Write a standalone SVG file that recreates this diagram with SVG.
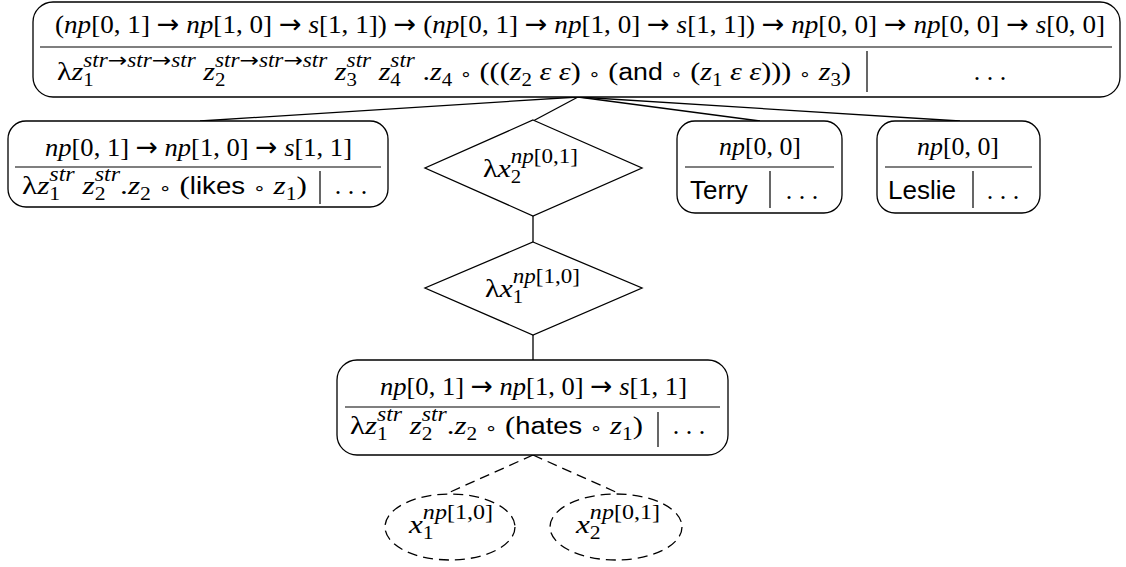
<svg xmlns="http://www.w3.org/2000/svg" width="1126" height="567" viewBox="0 0 1126 567">
<style>
.m{font-family:"Liberation Serif","DejaVu Serif",serif;font-size:26px;fill:#000}
.i{font-style:italic}
.s{font-size:20px}
.d{font-size:18px}
.a{font-family:"DejaVu Sans",sans-serif;font-style:normal}
.sf{font-family:"Liberation Sans","DejaVu Sans",sans-serif;font-style:normal;font-size:23px}
.w{font-family:"Liberation Sans","DejaVu Sans",sans-serif;font-size:26px}
.o{font-family:"DejaVu Sans",sans-serif;font-size:17px;font-style:normal}
.box{fill:#fff;stroke:#000;stroke-width:1.3}
.rule{stroke:#000;stroke-width:1.2;fill:none}
.edge{stroke:#000;stroke-width:1.3;fill:none}
.dash{stroke-dasharray:10 6}
</style>
<rect width="1126" height="567" fill="#fff"/>
<g id="connectors">
<line class="edge" x1="578" y1="97" x2="200" y2="121"/>
<line class="edge" x1="578" y1="97" x2="533" y2="121"/>
<line class="edge" x1="578" y1="97" x2="760" y2="121"/>
<line class="edge" x1="578" y1="97" x2="960" y2="121"/>
<line class="edge" x1="533" y1="216" x2="533" y2="242"/>
<line class="edge" x1="533" y1="335" x2="533" y2="360"/>
<line class="edge dash" x1="533" y1="455" x2="448" y2="493"/>
<line class="edge dash" x1="533" y1="455" x2="618" y2="493"/>
</g>
<g id="root">
<rect class="box" x="33" y="2" width="1087" height="95" rx="20"/>
<line class="rule" x1="40" y1="47" x2="1112" y2="47"/>
<line class="rule" x1="867" y1="51" x2="867" y2="92"/>
<text class="m" x="55" y="33" textLength="1050" lengthAdjust="spacingAndGlyphs">(<tspan class="i">np</tspan>[0, 1] <tspan class="a">→</tspan> <tspan class="i">np</tspan>[1, 0] <tspan class="a">→</tspan> <tspan class="i">s</tspan>[1, 1]) <tspan class="a">→</tspan> (<tspan class="i">np</tspan>[0, 1] <tspan class="a">→</tspan> <tspan class="i">np</tspan>[1, 0] <tspan class="a">→</tspan> <tspan class="i">s</tspan>[1, 1]) <tspan class="a">→</tspan> <tspan class="i">np</tspan>[0, 0] <tspan class="a">→</tspan> <tspan class="i">np</tspan>[0, 0] <tspan class="a">→</tspan> <tspan class="i">s</tspan>[0, 0]</text>
<text class="m" x="57" y="80" textLength="794" lengthAdjust="spacingAndGlyphs">λ<tspan class="i">z</tspan><tspan class="d" dy="6">1</tspan><tspan class="s i" dx="-9" dy="-19">str<tspan class="a">→</tspan>str<tspan class="a">→</tspan>str</tspan><tspan dy="13" class="i"> z</tspan><tspan class="d" dy="6">2</tspan><tspan class="s i" dx="-9" dy="-19">str<tspan class="a">→</tspan>str<tspan class="a">→</tspan>str</tspan><tspan dy="13" class="i"> z</tspan><tspan class="d" dy="6">3</tspan><tspan class="s i" dx="-9" dy="-19">str</tspan><tspan dy="13" class="i"> z</tspan><tspan class="d" dy="6">4</tspan><tspan class="s i" dx="-9" dy="-19">str</tspan><tspan dy="13"> .</tspan><tspan class="i">z</tspan><tspan class="d" dy="6">4</tspan><tspan dy="-6"> </tspan><tspan class="o">∘</tspan> (((<tspan class="i">z</tspan><tspan class="d" dy="6">2</tspan><tspan dy="-6" class="i"> ε ε</tspan>) <tspan class="o">∘</tspan> (<tspan class="sf">and</tspan> <tspan class="o">∘</tspan> (<tspan class="i">z</tspan><tspan class="d" dy="6">1</tspan><tspan dy="-6" class="i"> ε ε</tspan>))) <tspan class="o">∘</tspan> <tspan class="i">z</tspan><tspan class="d" dy="6">3</tspan><tspan dy="-6">)</tspan></text>
<text class="m" x="990" y="80" text-anchor="middle">. . .</text>
</g>
<g id="likes">
<rect class="box" x="8" y="121" width="380" height="86" rx="18"/>
<line class="rule" x1="15" y1="167" x2="381" y2="167"/>
<line class="rule" x1="320" y1="171" x2="320" y2="204"/>
<text class="m" x="45" y="156" textLength="307" lengthAdjust="spacingAndGlyphs"><tspan class="i">np</tspan>[0, 1] <tspan class="a">→</tspan> <tspan class="i">np</tspan>[1, 0] <tspan class="a">→</tspan> <tspan class="i">s</tspan>[1, 1]</text>
<text class="m" x="22" y="194" textLength="285" lengthAdjust="spacingAndGlyphs">λ<tspan class="i">z</tspan><tspan class="d" dy="6">1</tspan><tspan class="s i" dx="-9" dy="-19">str</tspan><tspan dy="13" class="i"> z</tspan><tspan class="d" dy="6">2</tspan><tspan class="s i" dx="-9" dy="-19">str</tspan><tspan dy="13">.</tspan><tspan class="i">z</tspan><tspan class="d" dy="6">2</tspan><tspan dy="-6"> </tspan><tspan class="o">∘</tspan> (<tspan class="sf">likes</tspan> <tspan class="o">∘</tspan> <tspan class="i">z</tspan><tspan class="d" dy="6">1</tspan><tspan dy="-6">)</tspan></text>
<text class="m" x="351" y="194" text-anchor="middle">. . .</text>
</g>
<g id="lambda-x2">
<polygon class="box" points="533,120 642,168 533,216 425,168"/>
<text class="m" x="483" y="177" textLength="95" lengthAdjust="spacingAndGlyphs">λ<tspan class="i">x</tspan><tspan class="d" dy="6">2</tspan><tspan class="s" dx="-9" dy="-20"><tspan class="i">np</tspan>[0,1]</tspan></text>
</g>
<g id="terry">
<rect class="box" x="677" y="121" width="165" height="92" rx="18"/>
<line class="rule" x1="685" y1="167" x2="834" y2="167"/>
<line class="rule" x1="770" y1="171" x2="770" y2="208"/>
<text class="m" x="760" y="155" text-anchor="middle" textLength="82" lengthAdjust="spacingAndGlyphs"><tspan class="i">np</tspan>[0, 0]</text>
<text class="w" x="690" y="199">Terry</text>
<text class="m" x="802" y="199" text-anchor="middle">. . .</text>
</g>
<g id="leslie">
<rect class="box" x="877" y="121" width="163" height="92" rx="18"/>
<line class="rule" x1="885" y1="167" x2="1032" y2="167"/>
<line class="rule" x1="973" y1="171" x2="973" y2="208"/>
<text class="m" x="958" y="155" text-anchor="middle" textLength="82" lengthAdjust="spacingAndGlyphs"><tspan class="i">np</tspan>[0, 0]</text>
<text class="w" x="888" y="199">Leslie</text>
<text class="m" x="1003" y="199" text-anchor="middle">. . .</text>
</g>
<g id="lambda-x1">
<polygon class="box" points="533,242 642,288 533,335 425,288"/>
<text class="m" x="485" y="297" textLength="95" lengthAdjust="spacingAndGlyphs">λ<tspan class="i">x</tspan><tspan class="d" dy="6">1</tspan><tspan class="s" dx="-9" dy="-20"><tspan class="i">np</tspan>[1,0]</tspan></text>
</g>
<g id="hates">
<rect class="box" x="337" y="360" width="391" height="95" rx="20"/>
<line class="rule" x1="345" y1="407" x2="720" y2="407"/>
<line class="rule" x1="658" y1="412" x2="658" y2="447"/>
<text class="m" x="380" y="395" textLength="307" lengthAdjust="spacingAndGlyphs"><tspan class="i">np</tspan>[0, 1] <tspan class="a">→</tspan> <tspan class="i">np</tspan>[1, 0] <tspan class="a">→</tspan> <tspan class="i">s</tspan>[1, 1]</text>
<text class="m" x="350" y="434" textLength="293" lengthAdjust="spacingAndGlyphs">λ<tspan class="i">z</tspan><tspan class="d" dy="6">1</tspan><tspan class="s i" dx="-9" dy="-19">str</tspan><tspan dy="13" class="i"> z</tspan><tspan class="d" dy="6">2</tspan><tspan class="s i" dx="-9" dy="-19">str</tspan><tspan dy="13">.</tspan><tspan class="i">z</tspan><tspan class="d" dy="6">2</tspan><tspan dy="-6"> </tspan><tspan class="o">∘</tspan> (<tspan class="sf">hates</tspan> <tspan class="o">∘</tspan> <tspan class="i">z</tspan><tspan class="d" dy="6">1</tspan><tspan dy="-6">)</tspan></text>
<text class="m" x="689" y="434" text-anchor="middle">. . .</text>
</g>
<g id="x1">
<ellipse class="edge dash" cx="450" cy="527" rx="65" ry="33"/>
<text class="m" x="409" y="533" textLength="84" lengthAdjust="spacingAndGlyphs"><tspan class="i">x</tspan><tspan class="d" dy="6">1</tspan><tspan class="s" dx="-9" dy="-20"><tspan class="i">np</tspan>[1,0]</tspan></text>
</g>
<g id="x2">
<ellipse class="edge dash" cx="616" cy="527" rx="66" ry="33"/>
<text class="m" x="576" y="533" textLength="84" lengthAdjust="spacingAndGlyphs"><tspan class="i">x</tspan><tspan class="d" dy="6">2</tspan><tspan class="s" dx="-9" dy="-20"><tspan class="i">np</tspan>[0,1]</tspan></text>
</g>
</svg>
